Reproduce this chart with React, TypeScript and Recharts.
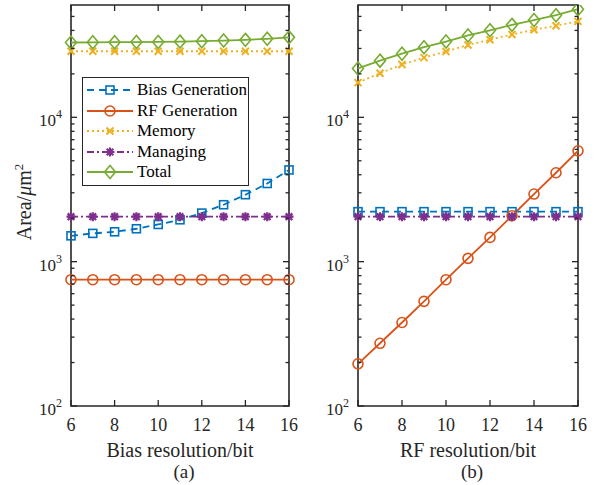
import { LineChart, Line, XAxis, YAxis, ReferenceArea } from 'recharts';

const bits = [6, 7, 8, 9, 10, 11, 12, 13, 14, 15, 16];

// (a) sweep of bias resolution
const biasGenA = [1510, 1570, 1610, 1690, 1810, 1950, 2170, 2480, 2910, 3480, 4320];
const rfGenA = [750, 750, 750, 750, 750, 750, 750, 750, 750, 750, 750];
const memoryA = [28700, 28700, 28700, 28700, 28700, 28700, 28700, 28700, 28700, 28700, 28700];
const managingA = [2050, 2050, 2050, 2050, 2050, 2050, 2050, 2050, 2050, 2050, 2050];
const totalA = [33000, 33100, 33150, 33200, 33300, 33450, 33700, 34000, 34400, 35000, 35800];

// (b) sweep of RF resolution
const biasGenB = [2220, 2220, 2220, 2220, 2220, 2220, 2220, 2220, 2220, 2220, 2220];
const rfGenB = [196, 272, 379, 531, 750, 1054, 1472, 2080, 2940, 4130, 5860];
const memoryB = [17400, 20200, 23200, 25900, 28600, 31700, 34500, 37500, 40400, 43100, 46200];
const managingB = [2050, 2050, 2050, 2050, 2050, 2050, 2050, 2050, 2050, 2050, 2050];
const totalB = [21800, 24700, 27600, 30600, 33500, 36900, 40100, 43700, 47200, 51000, 56100];

const xTicks = [6, 8, 10, 12, 14, 16];
const yMajor = [100, 1000, 10000];
const yMinor = [200, 300, 400, 500, 600, 700, 800, 900, 2000, 3000, 4000, 5000, 6000, 7000, 8000, 9000, 20000, 30000, 40000, 50000];

const FONT = 'Liberation Serif';
const AXIS = '#262626';
const PLOT_H = 401;

const series = [
  { key: 'bias', name: 'Bias Generation', color: '#0072BD', dash: '7 5', marker: 'square' },
  { key: 'rf', name: 'RF Generation', color: '#D95319', dash: undefined, marker: 'circle' },
  { key: 'mem', name: 'Memory', color: '#EDB120', dash: '2 3', marker: 'x' },
  { key: 'mgmt', name: 'Managing', color: '#7E2F8E', dash: '7 3 2 3', marker: 'star' },
  { key: 'total', name: 'Total', color: '#77AC30', dash: undefined, marker: 'diamond' },
];

const dataA = bits.map((b, i) => ({
  bit: b, bias: biasGenA[i], rf: rfGenA[i], mem: memoryA[i], mgmt: managingA[i], total: totalA[i],
}));
const dataB = bits.map((b, i) => ({
  bit: b, bias: biasGenB[i], rf: rfGenB[i], mem: memoryB[i], mgmt: managingB[i], total: totalB[i],
}));

function Marker({ cx, cy, kind, color }: any) {
  const sw = 1.6;
  if (cx == null || cy == null) return null;
  switch (kind) {
    case 'square':
      return <rect x={cx - 4} y={cy - 4} width={8} height={8} fill="none" stroke={color} strokeWidth={sw} />;
    case 'circle':
      return <circle cx={cx} cy={cy} r={5} fill="none" stroke={color} strokeWidth={sw} />;
    case 'x':
      return <path d={`M${cx - 3.5},${cy - 3.5}L${cx + 3.5},${cy + 3.5}M${cx + 3.5},${cy - 3.5}L${cx - 3.5},${cy + 3.5}`} stroke={color} strokeWidth={sw + 0.4} />;
    case 'star':
      return <path d={`M${cx - 4.5},${cy}L${cx + 4.5},${cy}M${cx},${cy - 4.5}L${cx},${cy + 4.5}M${cx - 3.3},${cy - 3.3}L${cx + 3.3},${cy + 3.3}M${cx + 3.3},${cy - 3.3}L${cx - 3.3},${cy + 3.3}`} stroke={color} strokeWidth={sw + 0.6} />;
    case 'diamond':
      return <path d={`M${cx},${cy - 6.5}L${cx + 5.5},${cy}L${cx},${cy + 6.5}L${cx - 5.5},${cy}Z`} fill="none" stroke={color} strokeWidth={sw} />;
    default:
      return null;
  }
}

function makeYTick(plotW: number) {
  return (props: any) => {
    const { x, y, payload } = props;
    const v = payload.value;
    const major = yMajor.includes(v);
    const len = major ? 6 : 3.5;
    return (
      <g>
        <line x1={x} x2={x + len} y1={y} y2={y} stroke={AXIS} strokeWidth={1.3} />
        <line x1={x + plotW} x2={x + plotW - len} y1={y} y2={y} stroke={AXIS} strokeWidth={1.3} />
        {major && (
          <text x={x - 9} y={y + 9} textAnchor="end" style={{ fontFamily: FONT }} fontSize={17} fill={AXIS}>
            10<tspan dy={-8} fontSize={12}>{Math.round(Math.log10(v))}</tspan>
          </text>
        )}
      </g>
    );
  };
}

function XTick(props: any) {
  const { x, y, payload } = props;
  return (
    <g>
      <line x1={x} x2={x} y1={y} y2={y - 6} stroke={AXIS} strokeWidth={1.3} />
      <line x1={x} x2={x} y1={y - PLOT_H} y2={y - PLOT_H + 6} stroke={AXIS} strokeWidth={1.3} />
      <text x={x} y={y + 25} textAnchor="middle" style={{ fontFamily: FONT }} fontSize={18} fill={AXIS}>
        {payload.value}
      </text>
    </g>
  );
}

function LegendBox() {
  return (
    <div style={{ position: 'absolute', left: 82, top: 77, width: 165, border: `1.5px solid ${AXIS}`, background: '#fff', padding: '2px 0', fontFamily: FONT, fontSize: 17, color: '#000' }}>
      {series.map(s => (
        <div key={s.key} style={{ display: 'flex', alignItems: 'center', height: 20.5 }}>
          <svg width={52} height={16} style={{ display: 'block' }}>
            <line x1={4} x2={50} y1={8} y2={8} stroke={s.color} strokeWidth={1.8} strokeDasharray={s.dash} />
            <Marker cx={27} cy={8} kind={s.marker} color={s.color} />
          </svg>
          <span style={{ marginLeft: 2, lineHeight: '16px' }}>{s.name}</span>
        </div>
      ))}
    </div>
  );
}

function Panel({ data, width, yAxisWidth, rightMargin }: any) {
  const plotW = width - yAxisWidth - rightMargin;
  return (
    <LineChart width={width} height={485} data={data} margin={{ top: 5, right: rightMargin, left: 0, bottom: 0 }}>
      <XAxis
        dataKey="bit"
        type="number"
        domain={[6, 16]}
        ticks={xTicks}
        interval={0}
        height={79}
        axisLine={false}
        tickLine={false}
        tickSize={0}
        tickMargin={0}
        tick={XTick}
      />
      <YAxis
        scale="log"
        domain={[100, 60000]}
        allowDataOverflow
        ticks={[...yMajor, ...yMinor]}
        interval={0}
        width={yAxisWidth}
        axisLine={false}
        tickLine={false}
        tickSize={0}
        tickMargin={0}
        tick={makeYTick(plotW)}
      />
      <ReferenceArea x1={6} x2={16} y1={100} y2={60000} fill="none" fillOpacity={0} stroke={AXIS} strokeWidth={1.6} ifOverflow="visible" />
      {series.map(s => (
        <Line
          key={s.key}
          dataKey={s.key}
          name={s.name}
          stroke={s.color}
          strokeWidth={1.8}
          strokeDasharray={s.dash}
          isAnimationActive={false}
          dot={(p: any) => <Marker key={`${s.key}-${p.index}`} cx={p.cx} cy={p.cy} kind={s.marker} color={s.color} />}
          activeDot={false}
        />
      ))}
    </LineChart>
  );
}

export default function App() {
  const label: any = { position: 'absolute', fontFamily: FONT, color: AXIS, whiteSpace: 'nowrap', lineHeight: '20px' };
  return (
    <div style={{ position: 'absolute', left: 0, top: 0, width: 602, height: 485, background: '#fff', fontFamily: FONT }}>
      <div style={{ position: 'absolute', left: 0, top: 0 }}>
        <Panel data={dataA} width={300} yAxisWidth={71} rightMargin={11} />
      </div>
      <div style={{ position: 'absolute', left: 300, top: 0 }}>
        <Panel data={dataB} width={302} yAxisWidth={58} rightMargin={24} />
      </div>
      <LegendBox />
      <div style={{ ...label, left: 24, top: 202, fontSize: 20, transform: 'translate(-50%, -50%) rotate(-90deg)' }}>
        Area/<i>μ</i>m<sup style={{ fontSize: 13, lineHeight: 0 }}>2</sup>
      </div>
      <div style={{ ...label, left: 180, top: 440, fontSize: 20, transform: 'translateX(-50%)' }}>Bias resolution/bit</div>
      <div style={{ ...label, left: 468, top: 440, fontSize: 20, transform: 'translateX(-50%)' }}>RF resolution/bit</div>
      <div style={{ ...label, left: 184, top: 462, fontSize: 19, transform: 'translateX(-50%)' }}>(a)</div>
      <div style={{ ...label, left: 472, top: 462, fontSize: 19, transform: 'translateX(-50%)' }}>(b)</div>
    </div>
  );
}
